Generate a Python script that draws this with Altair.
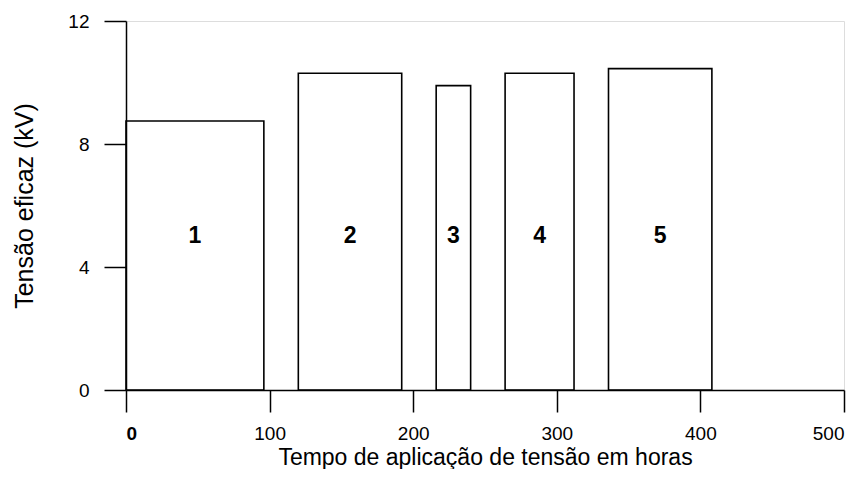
import altair as alt
import pandas as pd

# Test periods (hours) and applied rms voltage (kV)
start_h = [0, 120, 216, 264, 336]
end_h = [96, 192, 240, 312, 408]
volt_kv = [8.75, 10.3, 9.9, 10.3, 10.45]
labels = ["1", "2", "3", "4", "5"]
label_y = [5, 5, 5, 5, 5]

x_ticks = [0, 100, 200, 300, 400, 500]
y_ticks = [0, 4, 8, 12]

df = pd.DataFrame({
    "start": start_h,
    "end": end_h,
    "v": volt_kv,
    "label": labels,
    "ly": label_y,
})
df["mid"] = (df["start"] + df["end"]) / 2
df["zero"] = 0

FONT = "Liberation Sans"

x_scale = alt.Scale(domain=[0, 500], nice=False, zero=False)
y_scale = alt.Scale(domain=[0, 12], nice=False)

x_axis = alt.Axis(
    title="Tempo de aplicação de tensão em horas",
    values=x_ticks,
    grid=False,
    tickSize=22,
    tickColor="black",
    tickWidth=1.5,
    domainColor="black",
    domainWidth=1.5,
    labelFont=FONT,
    labelFontSize=19,
    labelColor="black",
    labelPadding=12,
    labelFontWeight=alt.ExprRef(expr="datum.value == 0 ? 'bold' : 'normal'"),
    titleFont=FONT,
    titleFontSize=23,
    titleFontWeight="normal",
    titleColor="black",
    titlePadding=3,
)

y_axis = alt.Axis(
    title="Tensão eficaz (kV)",
    values=y_ticks,
    grid=False,
    tickSize=22,
    tickColor="black",
    tickWidth=1.5,
    domainColor="black",
    domainWidth=1.5,
    labelFont=FONT,
    labelFontSize=19,
    labelColor="black",
    labelPadding=15,
    titleFont=FONT,
    titleFontSize=25,
    titleFontWeight="normal",
    titleColor="black",
    titlePadding=30,
)

rects = alt.Chart(df).mark_rect(
    fill=None, fillOpacity=0, stroke="black", strokeWidth=1.6
).encode(
    x=alt.X("start:Q", scale=x_scale, axis=x_axis),
    x2="end:Q",
    y=alt.Y("zero:Q", scale=y_scale, axis=y_axis),
    y2="v:Q",
)

texts = alt.Chart(df).mark_text(
    font=FONT, fontSize=23, fontWeight="bold", color="black",
    align="center", baseline="middle"
).encode(
    x=alt.X("mid:Q", scale=x_scale),
    y=alt.Y("ly:Q", scale=y_scale),
    text="label:N",
)

chart = (rects + texts).properties(
    width=718,
    height=369,
    autosize=alt.AutoSizeParams(type="none"),
    padding={"left": 118, "top": 13, "right": 7, "bottom": 79},
).configure_view(stroke=None).configure(background="white")

chart.save("out.html", embed_options={"renderer": "svg", "actions": False})
